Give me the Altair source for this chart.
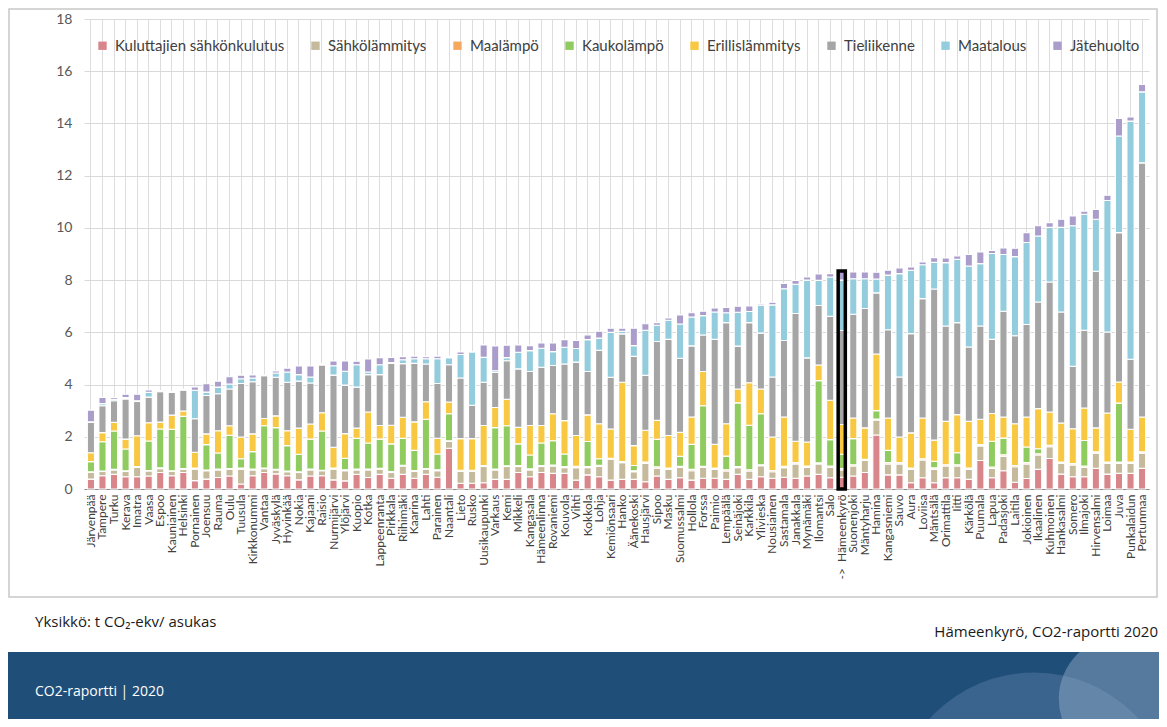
import altair as alt
import pandas as pd

names = ["Järvenpää","Tampere","Turku","Kerava","Imatra","Vaasa","Espoo","Kauniainen","Helsinki","Pornainen",
         "Joensuu","Rauma","Oulu","Tuusula","Kirkkonummi","Vantaa","Jyväskylä","Hyvinkää","Nokia","Kajaani",
         "Raisio","Nurmijärvi","Ylöjärvi","Kuopio","Kotka","Lappeenranta","Pirkkala","Riihimäki","Kaarina","Lahti",
         "Parainen","Naantali","Lieto","Rusko","Uusikaupunki","Varkaus","Kemi","Mikkeli","Kangasala","Hämeenlinna",
         "Rovaniemi","Kouvola","Vihti","Kokkola","Lohja","Kemiönsaari","Hanko","Äänekoski","Hausjärvi","Sipoo",
         "Masku","Suomussalmi","Hollola","Forssa","Paimio","Lempäälä","Seinäjoki","Karkkila","Ylivieska","Nousiainen",
         "Sastamala","Janakkala","Mynämäki","Ilomantsi","Salo","->\u00a0\u00a0Hämeenkyrö","Suonenjoki","Mäntyharju","Hamina","Kangasniemi",
         "Sauvo","Aura","Loviisa","Mäntsälä","Orimattila","Iitti","Kärkölä","Puumala","Lapua","Padasjoki",
         "Laitila","Jokioinen","Ikaalinen","Kuhmoinen","Hankasalmi","Somero","Ilmajoki","Hirvensalmi","Loimaa","Juva",
         "Punkalaidun","Pertunmaa"]

# Stack edges (upper edge of each series, t CO2-ekv / asukas)
edge_kulutus = [0.38,0.51,0.56,0.47,0.47,0.50,0.63,0.51,0.63,0.32,
                0.38,0.44,0.50,0.19,0.51,0.63,0.58,0.51,0.35,0.50,
                0.51,0.35,0.31,0.56,0.44,0.56,0.41,0.56,0.41,0.56,
                0.45,1.56,0.22,0.22,0.24,0.37,0.37,0.63,0.47,0.63,
                0.60,0.60,0.34,0.54,0.47,0.34,0.37,0.37,0.28,0.50,
                0.37,0.43,0.34,0.41,0.41,0.37,0.56,0.37,0.47,0.41,
                0.45,0.41,0.50,0.56,0.43,0.45,0.50,0.63,2.07,0.54,
                0.54,0.24,0.43,0.24,0.43,0.43,0.37,1.09,0.43,0.70,
                0.26,0.40,0.75,1.17,0.57,0.47,0.47,0.79,0.57,0.60,
                0.60,0.79]
edge_sahkolammitys = [0.64,0.67,0.73,0.67,0.83,0.69,0.78,0.68,0.76,0.76,
                      0.70,0.73,0.76,0.76,0.73,0.78,0.73,0.66,0.63,0.73,
                      0.70,0.76,0.70,0.73,0.73,0.76,0.63,0.88,0.67,0.76,
                      0.70,1.82,0.67,0.67,0.86,0.73,0.86,0.86,0.73,0.86,
                      0.88,0.82,0.82,0.82,0.86,1.14,1.01,0.66,0.98,0.80,
                      0.75,0.83,0.70,0.83,0.75,0.69,0.82,0.69,0.89,0.66,
                      0.82,0.96,0.83,0.96,0.83,0.73,0.88,1.09,2.64,0.96,
                      0.96,0.75,1.11,0.75,0.88,0.88,0.75,1.65,0.79,1.26,
                      0.85,0.96,1.30,1.62,0.98,0.92,0.83,1.37,0.98,0.98,
                      0.98,1.37]
edge_kaukolampo = [1.03,1.79,2.20,1.50,0.83,1.82,2.27,2.27,2.76,0.76,
                   1.67,1.35,2.04,1.12,1.40,2.40,2.33,1.63,1.30,1.88,
                   2.20,0.76,1.14,1.91,1.73,1.88,1.69,1.91,1.44,2.65,
                   1.30,2.85,0.67,0.67,0.86,2.32,2.39,1.69,1.26,1.72,
                   1.81,1.30,0.82,1.78,1.11,1.14,1.01,0.86,0.98,1.85,
                   0.75,1.21,1.66,3.15,0.75,1.21,3.26,2.39,2.84,0.66,
                   0.82,0.96,0.83,4.11,1.84,1.28,1.88,1.09,2.96,1.43,
                   0.96,0.75,1.11,1.00,0.88,1.34,0.75,1.65,1.78,1.90,
                   0.85,1.56,1.49,1.62,0.98,0.92,1.81,1.37,0.98,3.24,
                   0.98,1.37]
edge_erillis = [1.37,2.14,2.53,1.88,2.01,2.52,2.53,2.81,2.97,1.37,
                2.08,2.20,2.40,1.95,2.08,2.68,2.78,2.20,2.30,2.46,
                2.90,1.56,2.08,2.30,2.92,2.40,2.40,2.72,2.53,3.32,
                1.90,3.30,1.88,1.88,2.39,3.09,3.41,2.32,2.39,2.39,
                2.84,2.58,2.00,2.80,2.45,2.26,4.05,1.62,2.20,2.58,
                2.00,2.13,2.71,4.46,1.66,2.45,3.79,4.02,3.79,1.94,
                2.71,1.78,1.75,4.71,3.35,2.42,2.67,2.29,5.13,2.67,
                1.94,2.10,2.67,1.81,2.54,2.80,2.54,2.62,2.84,2.71,
                2.45,2.71,3.03,2.90,2.48,2.26,3.05,2.29,2.86,4.05,
                2.24,2.71]
edge_tieliikenne = [2.53,3.17,3.36,3.42,3.32,3.50,3.70,3.68,3.77,2.65,
                    3.55,3.62,3.81,4.00,4.08,4.32,4.26,4.06,4.10,4.03,
                    4.73,4.32,3.94,3.87,4.35,4.35,4.77,4.77,4.77,4.77,
                    4.00,4.73,4.20,3.16,4.05,4.43,4.88,4.56,4.46,4.62,
                    4.69,4.75,4.81,4.46,5.26,4.24,5.90,5.04,4.30,5.60,
                    5.68,4.97,5.43,5.86,5.68,6.32,5.43,6.32,5.93,4.24,
                    5.64,6.67,4.97,6.99,6.56,6.02,6.64,6.86,7.47,6.05,
                    4.24,5.90,7.24,7.60,6.19,6.32,5.39,6.19,5.68,6.76,
                    5.82,6.25,7.11,7.88,6.73,4.65,6.03,8.29,5.96,9.77,
                    4.92,12.44]
edge_maatalous = [2.55,3.25,3.42,3.47,3.35,3.68,3.72,3.70,3.78,3.74,
                  3.68,3.87,4.00,4.18,4.22,4.34,4.42,4.45,4.35,4.26,
                  4.75,4.68,4.47,4.73,4.45,4.73,4.80,4.92,4.95,4.97,
                  4.95,5.00,5.10,5.20,5.00,4.50,5.00,5.20,5.26,5.35,
                  5.22,5.39,5.33,5.68,5.73,5.96,6.00,5.45,6.03,6.22,
                  6.41,6.28,6.54,6.60,6.73,6.70,6.73,6.75,7.00,7.00,
                  7.62,7.79,7.95,7.95,8.07,7.95,8.00,8.00,8.00,8.14,
                  8.20,8.33,8.54,8.62,8.62,8.75,8.49,8.58,8.97,8.93,
                  8.85,9.39,9.64,9.97,9.97,10.03,10.47,10.28,11.00,13.47,
                  14.04,15.16]
edge_jatehuolto = [3.00,3.49,3.49,3.60,3.60,3.77,3.74,3.72,3.80,3.87,
                   4.00,4.10,4.28,4.32,4.34,4.36,4.50,4.60,4.68,4.68,
                   4.78,4.86,4.86,4.86,4.95,5.00,5.00,5.04,5.05,5.05,
                   5.05,5.05,5.20,5.22,5.48,5.45,5.48,5.48,5.45,5.55,
                   5.55,5.68,5.64,5.86,5.99,6.12,6.12,6.12,6.28,6.32,
                   6.50,6.63,6.70,6.77,6.88,6.90,6.96,6.96,7.05,7.10,
                   7.82,7.94,8.07,8.20,8.20,8.30,8.26,8.26,8.26,8.33,
                   8.42,8.45,8.65,8.80,8.80,8.88,8.93,9.03,9.09,9.18,
                   9.17,9.77,10.03,10.15,10.28,10.41,10.59,10.66,11.20,14.14,
                   14.20,15.44]
# ground-source heat: thin slivers
maalampo = [0.02,0.02,0.02,0.03,0.03,0.02,0.03,0.02,0.02,0.04,
            0.03,0.03,0.02,0.04,0.03,0.02,0.02,0.03,0.03,0.03,
            0.02,0.04,0.04,0.03,0.03,0.03,0.04,0.03,0.04,0.02,
            0.04,0.03,0.05,0.05,0.04,0.03,0.03,0.04,0.04,0.04,
            0.04,0.04,0.05,0.04,0.05,0.04,0.04,0.04,0.05,0.05,
            0.05,0.04,0.05,0.04,0.05,0.05,0.04,0.05,0.04,0.05,
            0.05,0.05,0.05,0.04,0.05,0.05,0.05,0.05,0.04,0.05,
            0.05,0.05,0.05,0.06,0.05,0.05,0.05,0.05,0.05,0.05,
            0.05,0.05,0.05,0.05,0.05,0.05,0.05,0.05,0.05,0.05,
            0.05,0.05]

series = ["Kuluttajien sähkönkulutus","Sähkölämmitys","Maalämpö","Kaukolämpö",
          "Erillislämmitys","Tieliikenne","Maatalous","Jätehuolto"]
colors = ["#D9868B","#C5BB9C","#F6A95E","#8FCB5F","#F8C843","#A5A5A5","#93CDDD","#AA9DCB"]
highlight = "->\u00a0\u00a0Hämeenkyrö"

rows = []
for i, n in enumerate(names):
    edges = [edge_kulutus[i], edge_sahkolammitys[i], edge_kaukolampo[i], edge_erillis[i],
             edge_tieliikenne[i], edge_maatalous[i], edge_jatehuolto[i]]
    parts = [edges[0], edges[1] - edges[0], maalampo[i], edges[2] - edges[1],
             edges[3] - edges[2], edges[4] - edges[3], edges[5] - edges[4], edges[6] - edges[5]]
    for k, (s, v) in enumerate(zip(series, parts)):
        rows.append({"kunta": n, "sektori": s, "arvo": round(max(v, 0.0), 3), "ord": k})
df = pd.DataFrame(rows)
tot = df.groupby("kunta", as_index=False)["arvo"].sum()
hl = tot[tot["kunta"] == highlight]

W, H = 1065, 470
FONT = "Lato"

xenc = alt.X("kunta:N", sort=names, title=None,
             scale=alt.Scale(paddingInner=0.38, paddingOuter=0.29),
             axis=alt.Axis(labelAngle=-90, labelFontSize=12, labelColor="#404040", labelFont=FONT,
                           ticks=False, domainColor="#8C8C8C", domainWidth=1.2, labelPadding=5,
                           labelOverlap=False, labelLimit=200))

bars = alt.Chart(df).mark_bar(stroke="white", strokeWidth=1.1).encode(
    x=xenc,
    y=alt.Y("arvo:Q", stack="zero", title=None,
            scale=alt.Scale(domain=[0, 18], nice=False),
            axis=alt.Axis(values=list(range(0, 19, 2)), labelFontSize=14, labelColor="#595959",
                          labelFont=FONT, ticks=False, domain=False, gridColor="#D9D9D9",
                          labelPadding=12)),
    color=alt.Color("sektori:N", sort=series, scale=alt.Scale(domain=series, range=colors),
                    legend=alt.Legend(title=None, orient="none", legendX=11, legendY=19,
                                      direction="horizontal", symbolType="square", symbolSize=70,
                                      symbolStrokeWidth=0, labelFontSize=15, labelFont=FONT,
                                      labelColor="#404040", columnPadding=23, labelOffset=5,
                                      labelLimit=400)),
    order=alt.Order("ord:Q"),
)

box = alt.Chart(hl).mark_bar(fillOpacity=0, stroke="black", strokeWidth=3.5).encode(
    x=alt.X("kunta:N", sort=names), y=alt.Y("arvo:Q"))

one = alt.Data(values=[{"a": 1}])
frame = alt.Chart(one).mark_rect(fillOpacity=0, stroke="#C8C8C8", strokeWidth=1.5).encode(
    x=alt.value(-75), x2=alt.value(1073), y=alt.value(-10), y2=alt.value(578))
band = alt.Chart(one).mark_rect(color="#1F4E79").encode(
    x=alt.value(-80), x2=alt.value(1080), y=alt.value(633), y2=alt.value(712))
circ1 = alt.Chart(one).mark_point(shape="circle", filled=True, color="#5B7FA6", opacity=0.45,
                                  size=80000).encode(x=alt.value(950), y=alt.value(795))
circ2 = alt.Chart(one).mark_point(shape="circle", filled=True, color="#9AB2CC", opacity=0.45,
                                  size=16000).encode(x=alt.value(1038), y=alt.value(680))
mask = alt.Chart(one).mark_rect(color="white").encode(
    x=alt.value(-80), x2=alt.value(1080), y=alt.value(580), y2=alt.value(633))
unit = alt.Chart(one).mark_text(text="Yksikkö: t CO₂-ekv/ asukas", align="left", baseline="middle",
                                font="Open Sans", fontSize=15, color="#1A1A1A").encode(
    x=alt.value(-49), y=alt.value(603))
src = alt.Chart(one).mark_text(text="Hämeenkyrö, CO2-raportti 2020", align="right", baseline="middle",
                               font="Open Sans", fontSize=15, color="#1A1A1A").encode(
    x=alt.value(1074), y=alt.value(613))
foot = alt.Chart(one).mark_text(text="CO2-raportti | 2020", align="left", baseline="middle",
                                font="Open Sans", fontSize=14, color="white").encode(
    x=alt.value(-49), y=alt.value(673))

chart = alt.layer(bars, box, frame, band, circ1, circ2, mask, unit, src, foot).properties(
    width=W, height=H,
    autosize=alt.AutoSizeParams(type="none"),
    padding={"left": 76, "top": 11, "right": 10, "bottom": 230},
).configure_view(stroke=None).configure_axis(grid=True)

chart.save("out.html", embed_options={"renderer": "svg", "actions": False})
